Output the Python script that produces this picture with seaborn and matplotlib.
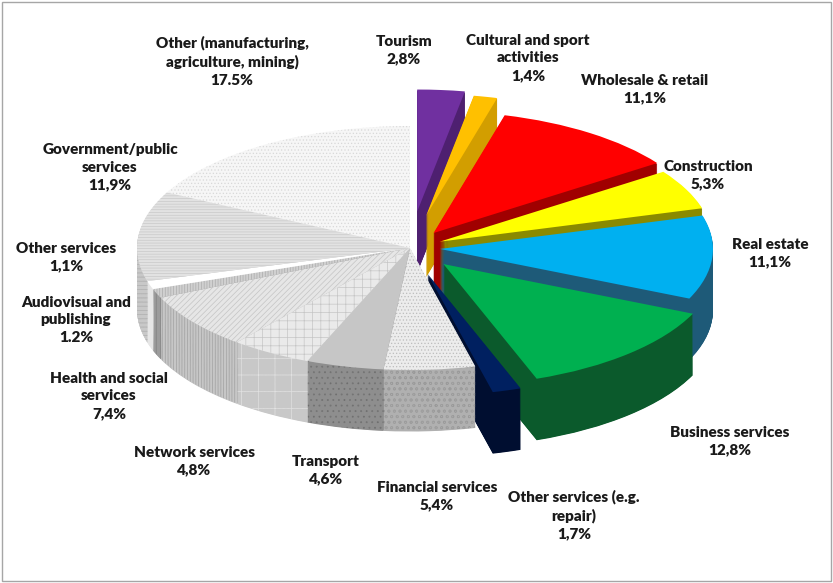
import numpy as np
import matplotlib.pyplot as plt
import seaborn as sns

# data (clockwise from 12 o'clock)
sectors = ['Tourism', 'Cultural and sport\nactivities', 'Wholesale & retail', 'Construction',
           'Real estate', 'Business services', 'Other services (e.g.\nrepair)', 'Financial services',
           'Transport', 'Network services', 'Health and social\nservices', 'Audiovisual and\npublishing',
           'Other services', 'Government/public\nservices', 'Other (manufacturing,\nagriculture, mining)']
shares = [2.8, 1.4, 11.1, 5.3, 11.1, 12.8, 1.7, 5.4, 4.6, 4.8, 7.4, 1.2, 1.1, 11.9, 17.5]
share_text = ['2,8%', '1,4%', '11,1%', '5,3%', '11,1%', '12,8%', '1,7%', '5,4%',
              '4,6%', '4,8%', '7,4%', '1.2%', '1,1%', '11,9%', '17.5%']

# styling
explode = [0.30, 0.27, 0.15, 0.12, 0.11, 0.18, 0.22, 0, 0, 0, 0, 0, 0, 0, 0]
top_colors = ['#7030A0', '#FFC000', '#FF0000', '#FFFF00', '#00B0F0', '#00B050', '#002060',
              '#ECECEC', '#C6C6C6', '#EAEAEA', '#E6E6E6', '#D0D0D0', '#FFFFFF', '#E2E2E2', '#F6F6F6']
side_colors = ['#4E2070', '#D29E00', '#A00000', '#8A8A00', '#1E5A78', '#0B5A2C', '#000E30',
               '#B0B0B0', '#8E8E8E', '#C8C8C8', '#C6C6C6', '#9C9C9C', '#E6E6E6', '#C8C8C8', '#DCDCDC']
hatches = [None] * 7 + ['.....', None, '++', '//////', '||||||', None, '------', '.....']
side_hatches = [None] * 7 + ['ooo', '...', '+', '||||||', '||||', None, '----', '....']
hatch_colors = ['none'] * 7 + ['#BDBDBD', '#A0A0A0', '#C6C6C6', '#C4C4C4', '#ACACAC',
                               'none', '#C9C9C9', '#D8D8D8']
side_hatch_colors = ['none'] * 7 + ['#9A9A9A', '#6E6E6E', '#E6E6E6', '#9E9E9E', '#7E7E7E',
                                    'none', '#AAAAAA', '#C4C4C4']
# label anchor points in pixels (x, y from top)
label_pos = [(404, 50), (528, 58), (645, 89), (708, 175), (770, 253), (730, 441),
             (574, 515), (437, 496), (326, 470), (194, 461), (109, 396), (76, 320),
             (66, 257), (110, 167), (232, 61)]

W, H = 833, 583
sns.set_theme(style='white')
plt.rcParams['font.family'] = ['Lato', 'DejaVu Sans']
plt.rcParams['hatch.linewidth'] = 0.5

fig = plt.figure(figsize=(W / 100, H / 100), dpi=100)
fig.patch.set_facecolor('white')
ax = fig.add_axes([0, 0, 1, 1])

# extruded side walls: stack darker pies downwards
depth = 0.5
n_layers = 60
for k in range(n_layers):
    off = -depth * (1 - k / n_layers)
    wedges, _ = ax.pie(shares, colors=side_colors, startangle=90, counterclock=False,
                       explode=explode, center=(0, off), frame=True, hatch=side_hatches,
                       wedgeprops=dict(linewidth=0))
    for w, hc in zip(wedges, side_hatch_colors):
        w.set_edgecolor(hc)
        w.set_linewidth(0)
    # fill thin seams between layers
    seam, _ = ax.pie(shares, colors=side_colors, startangle=90, counterclock=False,
                     explode=explode, center=(0, off - depth / n_layers / 2), frame=True,
                     wedgeprops=dict(linewidth=0))
    for w in seam:
        w.set_zorder(w.get_zorder() - 0.5)

# top faces
wedges, _ = ax.pie(shares, colors=top_colors, startangle=90, counterclock=False,
                   explode=explode, center=(0, 0), frame=True, hatch=hatches,
                   wedgeprops=dict(linewidth=0))
for w, hc in zip(wedges, hatch_colors):
    w.set_edgecolor(hc)
    w.set_linewidth(0)

# squash the pie into an ellipse (x unit 273 px, y unit 122 px)
cx, cy, rx, ry = 410, 248, 273, 122
ax.set_aspect('auto')
ax.set_xlim(-cx / rx, (W - cx) / rx)
ax.set_ylim(-(H - cy) / ry, cy / ry)
ax.axis('off')

for name, pct, (px, py) in zip(sectors, share_text, label_pos):
    fig.text(px / W, 1 - py / H, f'{name}\n{pct}', ha='center', va='center',
             fontsize=11, fontweight=800, color='#1a1a1a', linespacing=1.4)

# chart border
fig.patches.append(plt.Rectangle((0.002, 0.003), 0.995, 0.994, transform=fig.transFigure,
                                 fill=False, edgecolor='#A6A6A6', linewidth=1))

fig.savefig('out.png', dpi=100)
